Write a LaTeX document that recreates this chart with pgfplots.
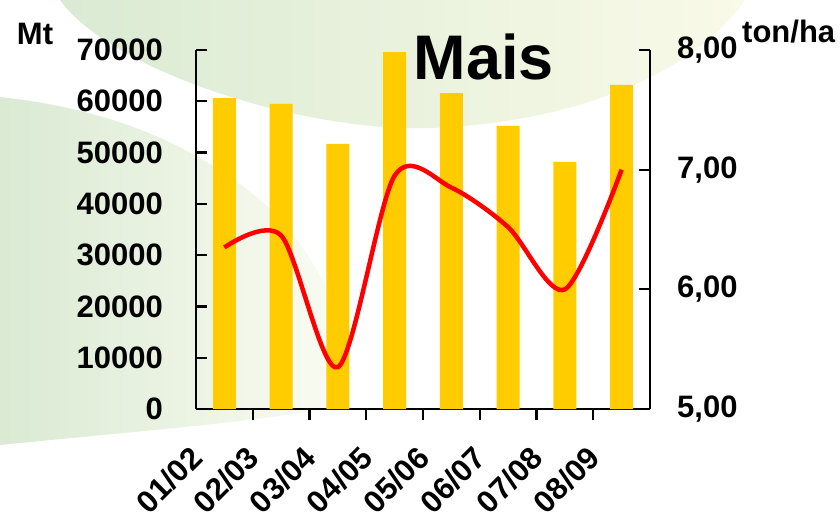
\documentclass[border=0pt]{standalone}
\usepackage{pgfplots}
\pgfplotsset{compat=1.18}
\usepackage{fontspec}
\setmainfont{Liberation Sans}
\definecolor{barY}{RGB}{255,204,0}
\definecolor{bgG}{RGB}{218,234,211}
\definecolor{bgY}{RGB}{249,250,232}
\definecolor{bgW}{RGB}{253,253,244}

\pgfplotstableread{
x prod
0 60600
1 59500
2 51700
3 69600
4 61600
5 55200
6 48200
7 63200
}\prodtable

\pgfplotstableread{
x yield
0 6.35
1 6.45
2 5.35
3 6.95
4 6.85
5 6.52
6 6.00
7 7.00
}\yieldtable

\pgfplotsset{
  chartfont/.style={font=\fontsize{31}{31}\selectfont\bfseries},
}

\begin{document}
\begin{tikzpicture}[x=1pt,y=1pt]
\useasboundingbox (0,-516) rectangle (840,0);
% background swooshes
\shade[left color=bgG, right color=bgY]
  (60,0) .. controls (110,-70) and (300,-132) .. (430,-128)
  .. controls (560,-124) and (690,-80) .. (745,0) -- cycle;
\shade[left color=bgG, right color=bgW]
  (0,-97) .. controls (120,-110) and (200,-150) .. (260,-200)
  .. controls (320,-250) and (370,-360) .. (340,-405)
  .. controls (280,-420) and (150,-430) .. (0,-445) -- cycle;

\begin{axis}[
  at={(196pt,-409pt)}, anchor=south west,
  scale only axis, width=454pt, height=359pt,
  xmin=-0.5, xmax=7.5, ymin=0, ymax=70000,
  axis x line*=bottom, axis y line*=left,
  axis line style={line width=2.2pt, -},
  tick style={line width=2.2pt, black},
  tick align=inside,
  major tick length=11pt, minor tick length=11pt,
  xtick={0,...,7},
  xticklabels={01/02,02/03,03/04,04/05,05/06,06/07,07/08,08/09},
  minor xtick={0.5,1.5,...,6.5},
  major x tick style={draw=none},
  ytick={0,10000,...,70000},
  scaled y ticks=false,
  /pgf/number format/1000 sep={},
  /pgf/number format/assume math mode=true,
  every tick label/.append style={chartfont},
  yticklabel style={anchor=east, inner sep=0pt, xshift=-33pt},
  xticklabel style={inner sep=0pt, xshift=-36pt, yshift=-24pt, rotate=45, anchor=north east},
  ybar, bar width=23pt,
]
\addplot[fill=barY, draw=none] table[x=x, y=prod] {\prodtable};
\end{axis}

\begin{axis}[
  at={(196pt,-409pt)}, anchor=south west,
  scale only axis, width=454pt, height=359pt,
  xmin=-0.5, xmax=7.5, ymin=5, ymax=8,
  axis y line*=right, axis x line=none,
  axis line style={line width=2.2pt, -},
  tick style={line width=2.2pt, black},
  tick align=inside,
  major tick length=11pt,
  ytick={5,6,7,8},
  /pgf/number format/.cd, fixed, fixed zerofill, precision=2, use comma, assume math mode=true,
  /pgfplots/.cd,
  every tick label/.append style={chartfont},
  yticklabel style={anchor=west, inner sep=0pt, xshift=27pt},
]
\addplot[red, line width=4.5pt, smooth, no marks] table[x=x, y=yield] {\yieldtable};
\end{axis}

\node[font=\fontsize{31}{31}\selectfont\bfseries] at (35,-34) {Mt};
\node[font=\fontsize{31}{31}\selectfont\bfseries, anchor=west, inner sep=0pt] at (742,-32) {ton/ha};
\node[font=\fontsize{63}{63}\selectfont\bfseries] at (484,-57) {Mais};
\end{tikzpicture}
\end{document}
